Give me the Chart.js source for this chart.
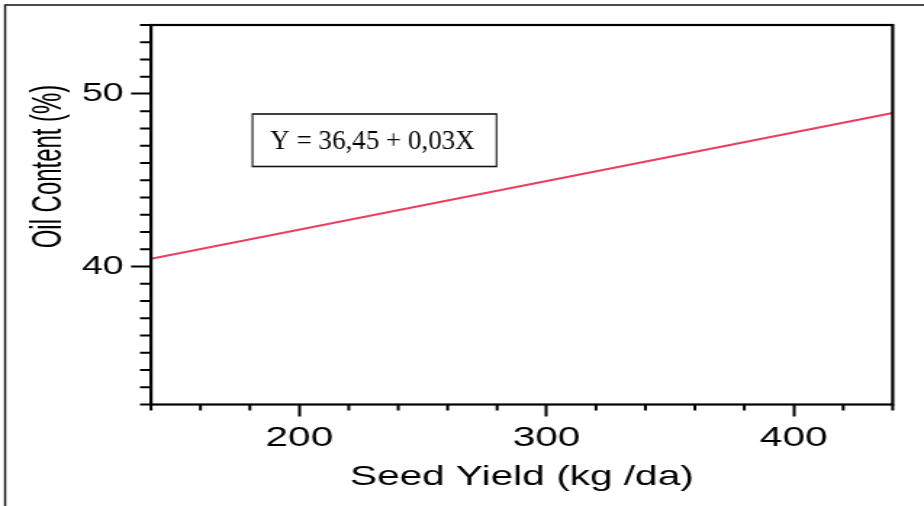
<!DOCTYPE html>
<html>
<head>
<meta charset="utf-8">
<script src="https://cdn.jsdelivr.net/npm/chart.js@4/dist/chart.umd.min.js"></script>
<style>
  html, body { margin: 0; padding: 0; background: #fff; overflow: hidden; }
  #wrap { position: relative; width: 924px; height: 506px; }
  /* the source figure is stretched sideways, so the canvas is too */
  #chart { position: absolute; left: 0; top: 0; transform: scaleX(1.4505); transform-origin: 0 0; }
</style>
</head>
<body>
<div id="wrap">
  <canvas id="chart" width="637" height="506"></canvas>
</div>
<script>
// --- DATA ---
const seedYield = [140, 440];          // kg/da, ends of the fitted line
const oilContent = [40.45, 48.9];      // %, line value at those ends
const xRange = [140, 440];
const yRange = [32, 54];
const xTickValues = [200, 300, 400];
const yTickValues = [40, 50];
const xMinorStep = 20;
const yMinorStep = 1;
const equationText = 'Y = 36,45 + 0,03X';
const xTitle = 'Seed Yield (kg /da)';
const yTitle = 'Oil Content (%)';

const STRETCH = 924 / 637;
const SANS = "'Liberation Sans', Arial, sans-serif";

// frame, minor ticks, y title and the equation box
const decorations = {
    id: 'decorations',
    beforeDraw(chart) {
        const ctx = chart.ctx;
        ctx.save();
        ctx.strokeStyle = '#111';
        ctx.lineWidth = 1.4;
        ctx.beginPath();
        ctx.moveTo(3.5, 506);
        ctx.lineTo(3.5, 5);
        ctx.lineTo(637, 5);
        ctx.stroke();
        ctx.restore();
    },
    afterDraw(chart) {
        const ctx = chart.ctx;
        const a = chart.chartArea;
        const xs = chart.scales.x, ys = chart.scales.y;

        ctx.save();
        ctx.strokeStyle = '#000';
        ctx.lineWidth = 2.2;
        ctx.strokeRect(a.left, a.top, a.right - a.left, a.bottom - a.top);

        // minor ticks
        ctx.lineWidth = 2;
        ctx.beginPath();
        for (let v = xRange[0]; v <= xRange[1]; v += xMinorStep) {
            if (xTickValues.includes(v)) continue;
            const px = xs.getPixelForValue(v);
            ctx.moveTo(px, a.bottom);
            ctx.lineTo(px, a.bottom + 6);
        }
        for (let v = yRange[0]; v <= yRange[1]; v += yMinorStep) {
            if (yTickValues.includes(v)) continue;
            const py = ys.getPixelForValue(v);
            ctx.moveTo(a.left, py);
            ctx.lineTo(a.left - 7.6, py);
        }
        ctx.stroke();

        // y axis title (sits above the axis centre in the source, glyphs look condensed)
        ctx.save();
        ctx.translate(34, 166.5);
        ctx.rotate(-Math.PI / 2);
        ctx.scale(0.825, 1);
        ctx.fillStyle = '#000';
        ctx.font = '29px ' + SANS;
        ctx.textAlign = 'center';
        ctx.textBaseline = 'middle';
        ctx.fillText(yTitle, 0, 0);
        ctx.restore();

        // equation box, drawn in screen pixels (it is not stretched)
        ctx.scale(1 / STRETCH, 1);
        ctx.lineWidth = 1.6;
        ctx.strokeStyle = '#111';
        ctx.strokeRect(252.5, 114, 244, 52.5);
        ctx.fillStyle = '#000';
        ctx.font = "27px 'Liberation Serif', 'Times New Roman', serif";
        ctx.textAlign = 'center';
        ctx.textBaseline = 'alphabetic';
        ctx.fillText(equationText, 372.5, 148.5);
        ctx.restore();
    }
};

new Chart(document.getElementById('chart'), {
    type: 'line',
    data: {
        datasets: [{
            data: seedYield.map((x, i) => ({ x: x, y: oilContent[i] })),
            borderColor: '#ee3d5e',
            borderWidth: 2,
            pointRadius: 0,
            tension: 0
        }]
    },
    options: {
        responsive: false,
        animation: false,
        devicePixelRatio: 1,
        layout: { padding: { top: 25, right: 21.6, bottom: 0, left: 0 } },
        plugins: { legend: { display: false }, tooltip: { enabled: false } },
        scales: {
            x: {
                type: 'linear',
                min: xRange[0],
                max: xRange[1],
                afterBuildTicks: axis => { axis.ticks = xTickValues.map(v => ({ value: v })); },
                afterFit: axis => { axis.height = 101.5; },
                border: { display: false },
                grid: { drawOnChartArea: false, drawTicks: true, tickLength: 12, tickWidth: 2, tickColor: '#000', color: '#000' },
                ticks: { color: '#000', font: { family: SANS, size: 28 }, padding: 5, maxRotation: 0 },
                title: { display: true, text: xTitle, color: '#000', font: { family: SANS, size: 28 }, padding: { top: 4, bottom: 12 } }
            },
            y: {
                type: 'linear',
                min: yRange[0],
                max: yRange[1],
                afterBuildTicks: axis => { axis.ticks = yTickValues.map(v => ({ value: v })); },
                afterFit: axis => { axis.width = 104.1; },
                border: { display: false },
                grid: { drawOnChartArea: false, drawTicks: true, tickLength: 13.8, tickWidth: 2, tickColor: '#000', color: '#000' },
                ticks: { color: '#000', font: { family: SANS, size: 26 }, padding: 5 }
            }
        }
    },
    plugins: [decorations]
});
</script>
</body>
</html>
